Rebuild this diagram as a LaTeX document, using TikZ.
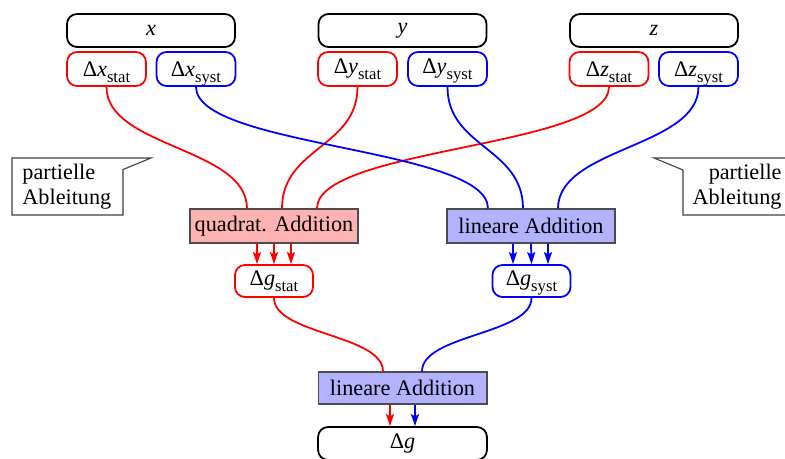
\documentclass[tikz,border=0pt]{standalone}
\usepackage{fontspec}
\setmainfont{Liberation Serif}
\usetikzlibrary{calc,arrows.meta}
\newcommand{\lowsub}[1]{\raisebox{-2.6pt}[0pt][0pt]{\fontsize{7.5}{8}\selectfont #1}}
\begin{document}
\begin{tikzpicture}[x=0.45pt,y=-0.45pt,
  var/.style={draw=black, line width=0.8pt, rounded corners=4.5pt, minimum width=75.6pt, minimum height=14.85pt, inner sep=0pt},
  statbox/.style={draw=red, line width=0.8pt, rounded corners=4.5pt, minimum width=35.5pt, minimum height=15.3pt, inner sep=0pt},
  systbox/.style={statbox, draw=blue},
  addq/.style={draw=black!70, fill=red!30, line width=0.5pt, minimum width=75.6pt, minimum height=15.3pt, inner sep=0pt},
  addl/.style={addq, fill=blue!30},
  redline/.style={red, line width=0.8pt},
  blueline/.style={blue, line width=0.8pt},
  arr/.style={-{Stealth[length=5.4pt,width=3.6pt,inset=1pt]}},
  callout/.style={draw=black!75, line width=0.5pt},
  ctext/.style={inner sep=0pt, font={\fontsize{10}{11.25}\selectfont}}
]
\useasboundingbox (0,0) rectangle (785,458);

% top variable boxes
\node[var] (x) at (151,30.5) {\textit{x}};
\node[var] (y) at (402.5,30.5) {\textit{y}};
\node[var] (z) at (654,30.5) {\textit{z}};

\node[statbox] (xs) at (106.5,69) {Δ\textit{x}\lowsub{stat}};
\node[systbox] (xy) at (196,69) {Δ\textit{x}\lowsub{syst}};
\node[statbox] (ys) at (357.5,69) {Δ\textit{y}\lowsub{stat}};
\node[systbox] (yy) at (447.5,69) {Δ\textit{y}\lowsub{syst}};
\node[statbox] (zs) at (609,69) {Δ\textit{z}\lowsub{stat}};
\node[systbox] (zy) at (698.5,69) {Δ\textit{z}\lowsub{syst}};

% addition boxes
\node[addq] (qa) at (274,226) {quadrat. Addition};
\node[addl] (la) at (531,226) {lineare Addition};

\node[statbox, minimum width=35.1pt, minimum height=14.4pt] (gs) at (274,281) {Δ\textit{g}\lowsub{stat}};
\node[systbox, minimum width=35.1pt, minimum height=14.4pt] (gy) at (531.5,281) {Δ\textit{g}\lowsub{syst}};

\node[addl, minimum width=76pt, minimum height=14.4pt] (lb) at (402.5,388) {lineare Addition};
\node[var, minimum width=76pt] (g) at (402.5,443.5) {Δ\textit{g}};

% helper coordinates
\coordinate (m1) at (0,147.5);
\coordinate (m2) at (0,334.5);
\coordinate (q1) at ($(qa.north)+(-27,0)$);
\coordinate (q2) at ($(qa.north)+(8,0)$);
\coordinate (q3) at ($(qa.north)+(43,0)$);
\coordinate (l1) at ($(la.north)+(-43,0)$);
\coordinate (l2) at ($(la.north)+(-8,0)$);
\coordinate (l3) at ($(la.north)+(27,0)$);
\coordinate (b1) at ($(lb.north)+(-19.5,0)$);
\coordinate (b2) at ($(lb.north)+(19.5,0)$);

% curves to additions
\draw[redline] (xs.south) .. controls (xs.south |- m1) and (q1 |- m1) .. (q1);
\draw[redline] (ys.south) .. controls (ys.south |- m1) and (q2 |- m1) .. (q2);
\draw[redline] (zs.south) .. controls (zs.south |- m1) and (q3 |- m1) .. (q3);
\draw[blueline] (xy.south) .. controls (xy.south |- m1) and (l1 |- m1) .. (l1);
\draw[blueline] (yy.south) .. controls (yy.south |- m1) and (l2 |- m1) .. (l2);
\draw[blueline] (zy.south) .. controls (zy.south |- m1) and (l3 |- m1) .. (l3);

% arrows from additions
\draw[redline,arr] ($(qa.south)+(-17,0)$) -- ($(gs.north)+(-17,0)$);
\draw[redline,arr] (qa.south) -- (gs.north);
\draw[redline,arr] ($(qa.south)+(17,0)$) -- ($(gs.north)+(17,0)$);
\draw[blueline,arr] ($(la.south)+(-18,0)$) -- ($(gy.north)+(-18.5,0)$);
\draw[blueline,arr] (la.south) -- (gy.north);
\draw[blueline,arr] ($(la.south)+(17,0)$) -- ($(gy.north)+(16.5,0)$);

% curves to final addition
\draw[redline] (gs.south) .. controls (gs.south |- m2) and (b1 |- m2) .. (b1);
\draw[blueline] (gy.south) .. controls (gy.south |- m2) and (b2 |- m2) .. (b2);

\draw[redline,arr] ($(lb.south)+(-12.5,0)$) -- ($(g.north)+(-12.5,0)$);
\draw[blueline,arr] ($(lb.south)+(12.5,0)$) -- ($(g.north)+(12.5,0)$);

% callouts
\draw[callout] (12,158) -- (151,158) -- (123,169.5) -- (123,215) -- (12,215) -- cycle;
\node[ctext, anchor=west, align=left] (cl) at (22,187) {partielle\\Ableitung};
\draw[callout] (654,158) -- (800,158) -- (800,215) -- (683,215) -- (683,170) -- cycle;
\node[ctext, anchor=east, align=right] (cr) at (782,187) {partielle\\Ableitung};
\end{tikzpicture}
\end{document}
